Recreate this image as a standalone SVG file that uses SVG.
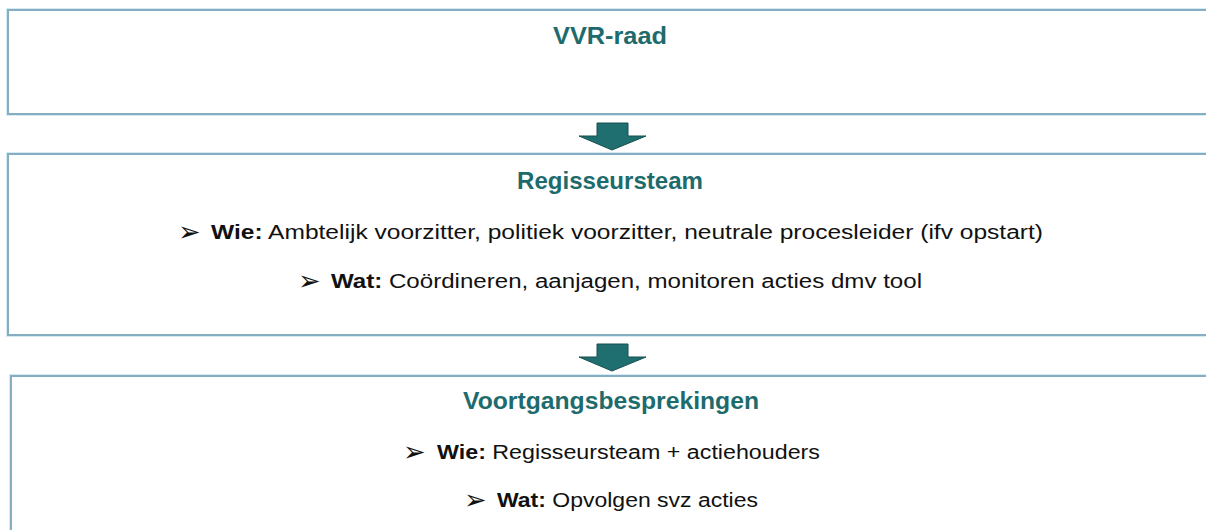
<svg xmlns="http://www.w3.org/2000/svg" width="1206" height="530" viewBox="0 0 1206 530">
<defs>
<style>
.box{fill:#fff;stroke:#86aec2;stroke-width:2}
.halo{fill:none;stroke:#d6eaf4;stroke-width:4}
.title{font-family:"Liberation Sans",Arial,sans-serif;font-weight:bold;font-size:24px;fill:#1d6b6c;text-anchor:middle}
.body{font-family:"Liberation Sans",Arial,sans-serif;font-size:19.5px;fill:#111}
.bullet{font-family:"DejaVu Sans",sans-serif;font-size:27px;fill:#111}
.arrow{fill:#1f6f70;stroke:#164f50;stroke-width:1}
</style>
</defs>
<rect width="1206" height="530" fill="#fff"/>
<g id="vvr-raad">
<rect class="halo" x="8" y="10" width="1220" height="104"/>
<rect class="box" x="8" y="10" width="1220" height="104"/>
<text class="title" x="610" y="44" textLength="114" lengthAdjust="spacingAndGlyphs">VVR-raad</text>
</g>
<g id="regisseursteam">
<rect class="halo" x="8" y="154" width="1220" height="181"/>
<rect class="box" x="8" y="154" width="1220" height="181"/>
<text class="title" x="610" y="189" textLength="186" lengthAdjust="spacingAndGlyphs">Regisseursteam</text>
<text class="bullet" x="178" y="241">➢</text>
<text class="body" x="211" y="239" textLength="832" lengthAdjust="spacingAndGlyphs"><tspan font-weight="bold">Wie:</tspan> Ambtelijk voorzitter, politiek voorzitter, neutrale procesleider (ifv opstart)</text>
<text class="bullet" x="298" y="290">➢</text>
<text class="body" x="331" y="288" textLength="591" lengthAdjust="spacingAndGlyphs"><tspan font-weight="bold">Wat:</tspan> Coördineren, aanjagen, monitoren acties dmv tool</text>
</g>
<g id="voortgangsbesprekingen">
<rect class="halo" x="11" y="376" width="1220" height="180"/>
<rect class="box" x="11" y="376" width="1220" height="180"/>
<text class="title" x="611" y="409" textLength="296" lengthAdjust="spacingAndGlyphs">Voortgangsbesprekingen</text>
<text class="bullet" x="403" y="461">➢</text>
<text class="body" x="437" y="459" textLength="383" lengthAdjust="spacingAndGlyphs"><tspan font-weight="bold">Wie:</tspan> Regisseursteam + actiehouders</text>
<text class="bullet" x="464" y="509">➢</text>
<text class="body" x="497" y="507" textLength="261" lengthAdjust="spacingAndGlyphs"><tspan font-weight="bold">Wat:</tspan> Opvolgen svz acties</text>
</g>
<g id="connectors">
<polygon class="arrow" points="597,123 628,123 628,136 646,136 612,150 579,136 597,136"/>
<polygon class="arrow" points="597,344 628,344 628,357 646,357 612,371 579,357 597,357"/>
</g>
</svg>
